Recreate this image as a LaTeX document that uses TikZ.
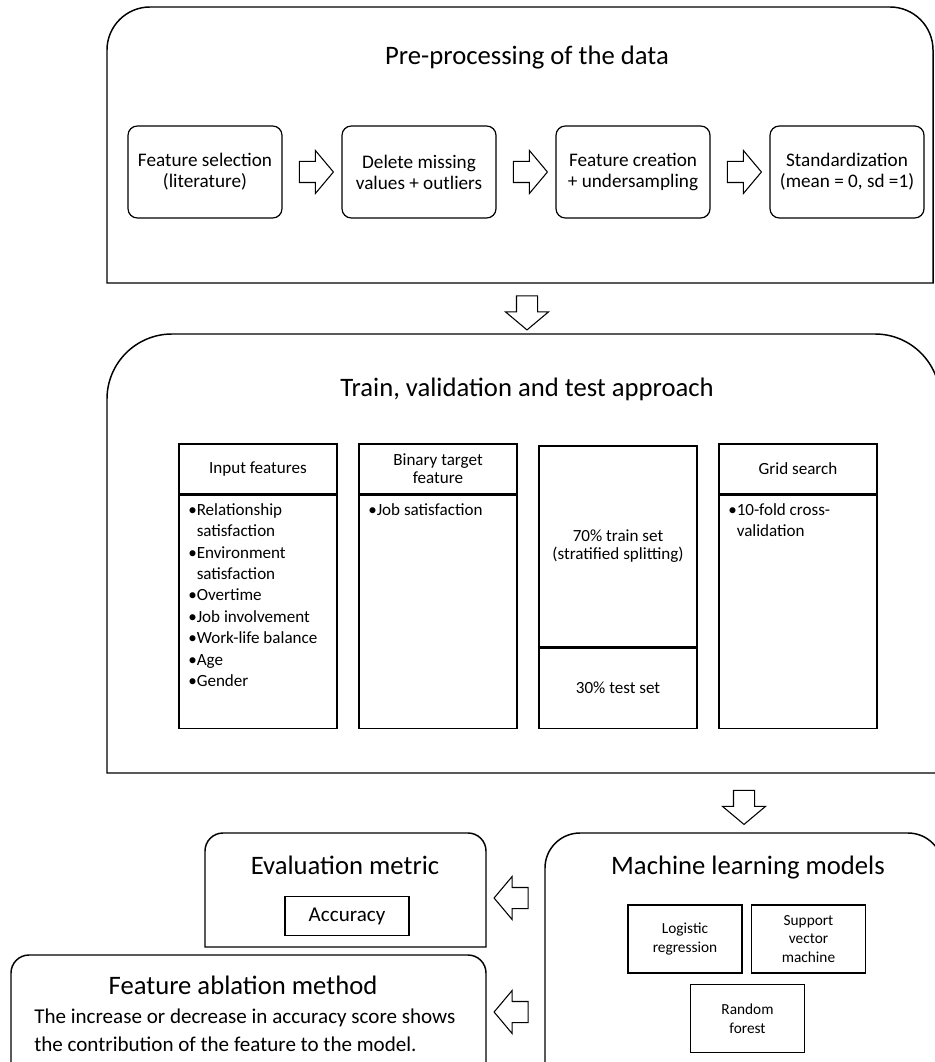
\documentclass[tikz,border=0pt]{standalone}
\usepackage{fontspec}
\setmainfont{Carlito}
\usetikzlibrary{shapes.arrows,calc}

\begin{document}
\begin{tikzpicture}[x=0.75pt,y=0.75pt,yscale=-1,xscale=1,
  frame/.style={line width=1.1pt},
  bigtitle/.style={inner sep=0.75pt,font=\fontsize{20}{24}\selectfont},
  stepbox/.style={draw,line width=0.9pt,rounded corners=7pt,minimum width=115.5pt,minimum height=69pt,align=center,font=\fontsize{14.4}{15.75}\selectfont},
  colbox/.style={draw,line width=0.9pt,minimum width=118.5pt,align=center,font=\fontsize{12.8}{13.5}\selectfont},
  listtext/.style={anchor=north west,inner sep=0pt,align=left,font=\fontsize{12.8}{16.1}\selectfont},
  modelbox/.style={draw,line width=0.9pt,minimum width=85.5pt,minimum height=51pt,align=center,font=\fontsize{11.5}{14}\selectfont},
  hollow/.style={draw,line width=0.8pt,single arrow,inner sep=7.5pt,minimum height=25.5pt,single arrow head extend=8.25pt,single arrow tip angle=100,fill=white}]
   \useasboundingbox (0,0) rectangle (934,1062);

   %Shape: Top frame [id:pre]
   \draw [frame] (107,283) -- (107,50) arc[start angle=180,end angle=270,radius=43] -- (890,7) arc[start angle=270,end angle=360,radius=43] -- (933,283) -- cycle ;
   % Text Node
   \node [bigtitle] (pretitle) at (527,58) {Pre-processing of the data};
   % Steps
   \node [stepbox] (fsel) at (205,172) {Feature selection\\(literature)};
   \node [stepbox] (dmiss) at (419,172) {Delete missing\\values + outliers};
   \node [stepbox] (fcre) at (633,172) {Feature creation\\+ undersampling};
   \node [stepbox] (stdz) at (847,172) {Standardization\\(mean = 0, sd =1)};
   \node [hollow] (r1) at ($(fsel.east)!0.5!(dmiss.west)$) {};
   \node [hollow] (r2) at ($(dmiss.east)!0.5!(fcre.west)$) {};
   \node [hollow] (r3) at ($(fcre.east)!0.5!(stdz.west)$) {};

   \coordinate (prebot) at (527,283);
   \coordinate (tvtop) at (527,334);
   \node [hollow,shape border rotate=270] (d1) at ($(prebot)!0.5!(tvtop)$) {};

   %Shape: Middle frame [id:tv]
   \draw [frame] (107,773) -- (107,399) arc[start angle=180,end angle=270,radius=65] -- (875,334) arc[start angle=270,end angle=360,radius=65] -- (940,773) -- cycle ;
   % Text Node
   \node [bigtitle] (tvtitle) at (527,389) {Train, validation and test approach};

   % Input features
   \node [colbox,minimum height=37.5pt] (inhd) at (258,469) {Input features};
   \node [colbox,minimum height=174.75pt,anchor=north] (inbd) at (inhd.south) {};
   \node [listtext] (inlist) at (188,503) {•Relationship\\\phantom{•}satisfaction\\•Environment\\\phantom{•}satisfaction\\•Overtime\\•Job involvement\\•Work-life balance\\•Age\\•Gender};
   % Binary target
   \node [colbox,minimum height=37.5pt] (bthd) at (438,469) {Binary target\\feature};
   \node [colbox,minimum height=174.75pt,anchor=north] (btbd) at (bthd.south) {};
   \node [listtext] (btlist) at (368,503) {•Job satisfaction};
   % Split
   \node [colbox,minimum height=150.75pt] (train) at (618,546.5) {70\% train set\\(stratified splitting)};
   \node [colbox,minimum height=60pt,anchor=north] (test) at (train.south) {30\% test set};
   % Grid search
   \node [colbox,minimum height=37.5pt] (gshd) at (798,469) {Grid search};
   \node [colbox,minimum height=174.75pt,anchor=north] (gsbd) at (gshd.south) {};
   \node [listtext] (gslist) at (728,503) {•10-fold cross-\\\phantom{•}validation};

   \coordinate (tvbot) at (744,773);
   \coordinate (mltop) at (744,833);
   \node [hollow,shape border rotate=270] (d2) at ($(tvbot)!0.5!(mltop)$) {};

   %Shape: ML frame [id:ml]
   \draw [frame] (545,1080) -- (545,868) arc[start angle=180,end angle=270,radius=35] -- (908,833) arc[start angle=270,end angle=360,radius=35] -- (943,1080) ;
   \node [bigtitle] (mltitle) at (748,868) {Machine learning models};
   \node [modelbox] (logreg) at (685,939) {Logistic\\regression};
   \node [modelbox] (svm) at (808.5,939) {Support\\vector\\machine};
   \node [modelbox] (rf) at (747.5,1018.5) {Random\\forest};

   %Shape: Evaluation frame [id:ev]
   \draw [frame] (205,947) -- (205,851) arc[start angle=180,end angle=270,radius=18] -- (468,833) arc[start angle=270,end angle=360,radius=18] -- (486,947) -- cycle ;
   \node [bigtitle] (evtitle) at (345,865) {Evaluation metric};
   \node [draw,line width=0.9pt,minimum width=93pt,minimum height=29pt,font=\fontsize{15.8}{18}\selectfont] (acc) at (347,916) {Accuracy};

   %Shape: Ablation frame [id:fa]
   \draw [frame] (11,1080) -- (11,973) arc[start angle=180,end angle=270,radius=18] -- (468,955) arc[start angle=270,end angle=360,radius=18] -- (486,1080) ;
   \node [bigtitle] (fatitle) at (243,985) {Feature ablation method};
   \node [anchor=north west,inner sep=0pt,align=left,font=\fontsize{15.8}{21}\selectfont] (fatext) at (34,1009) {The increase or decrease in accuracy score shows\\the contribution of the feature to the model.};

   \coordinate (evright) at (486,898);
   \coordinate (mlleft1) at (545,898);
   \coordinate (farright) at (486,1012);
   \coordinate (mlleft2) at (545,1012);
   \node [hollow,shape border rotate=180] (l1) at ($(evright)!0.5!(mlleft1)$) {};
   \node [hollow,shape border rotate=180] (l2) at ($(farright)!0.5!(mlleft2)$) {};

\end{tikzpicture}
\end{document}
